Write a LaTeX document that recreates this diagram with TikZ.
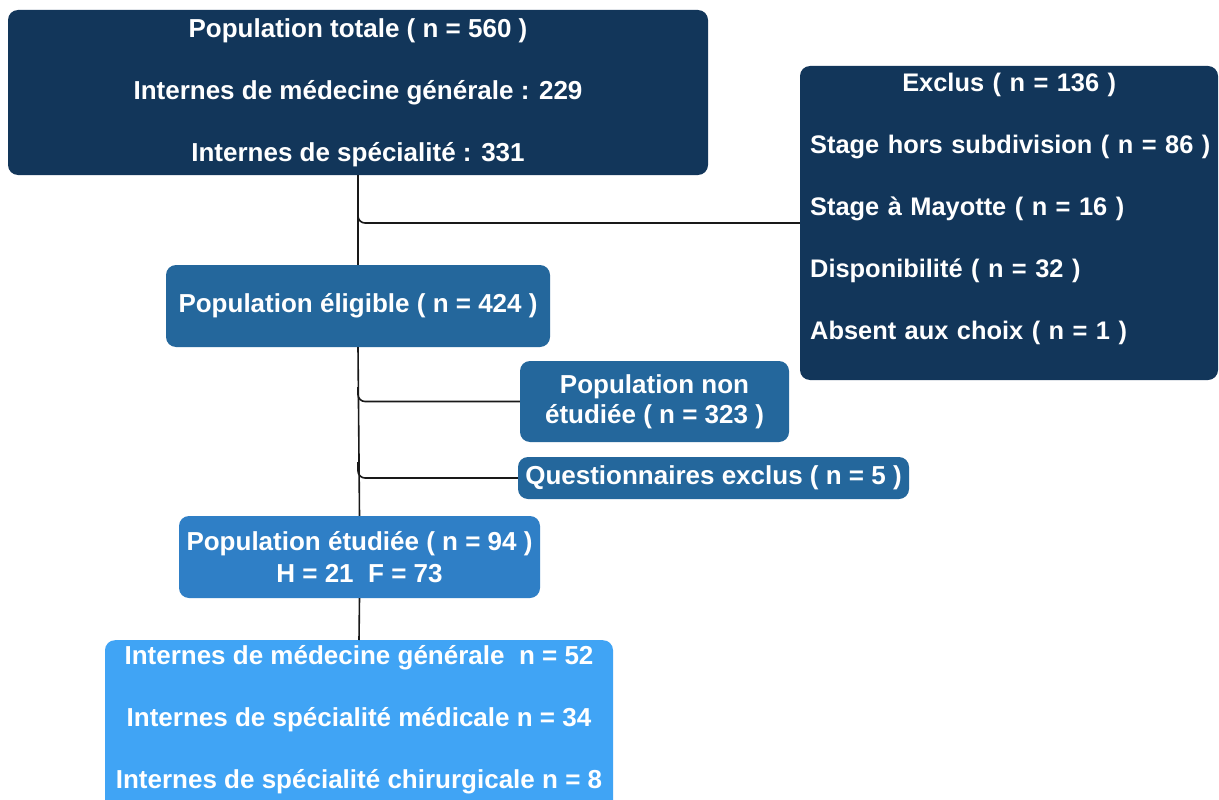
\documentclass[tikz,border=0pt]{standalone}
\usepackage{fontspec}
\setmainfont{Liberation Sans}
\usetikzlibrary{calc}
\definecolor{navy}{HTML}{12365A}
\definecolor{midblue}{HTML}{24679C}
\definecolor{studblue}{HTML}{2F7FC6}
\definecolor{lightblue}{HTML}{40A4F5}
\tikzset{
  box/.style={rounded corners=10pt, inner sep=0pt, text=white, align=center,
    font=\bfseries\fontsize{26}{62}\selectfont},
  boxtext/.style={inner sep=0pt, text=white, font=\bfseries\fontsize{26}{62}\selectfont},
  link/.style={draw=black!90, line width=1.6pt},
}
\begin{document}
\begin{tikzpicture}[x=1pt,y=-1pt]
\clip (0,0) rectangle (1219,800);
\fill[white] (0,0) rectangle (1219,800);

% boxes
\node[box, fill=navy, minimum width=700, minimum height=165] (top) at (358,92.5)
  {Population totale ( n = 560 )\\Internes de médecine générale : 229\\Internes de spécialité : 331};

\node[box, fill=navy, minimum width=418, minimum height=314] (exclus) at (1009,223) {};
\node[boxtext, align=left, text width=414, anchor=north west,
  font=\bfseries\fontsize{25.4}{62}\selectfont] (exclustext) at (810,73)
  {\makebox[398pt][c]{Exclus ( n = 136 )}\\Stage hors subdivision ( n = 86 )\\Stage à Mayotte ( n = 16 )\\Disponibilité ( n = 32 )\\Absent aux choix ( n = 1 )};

\node[box, fill=midblue, minimum width=384, minimum height=82] (elig) at (358,306)
  {Population éligible ( n = 424 )};

\node[box, fill=midblue, minimum width=269, minimum height=81,
  font=\bfseries\fontsize{26}{30}\selectfont] (nonetud) at (654.5,401.5)
  {Population non\\étudiée ( n = 323 )};

\node[box, fill=midblue, minimum width=391, minimum height=42] (quest) at (713.5,478)
  {Questionnaires exclus ( n = 5 )};

\node[box, fill=studblue, minimum width=361, minimum height=82,
  font=\bfseries\fontsize{26}{32}\selectfont] (etud) at (359.5,557)
  {Population étudiée ( n = 94 )\\H = 21\ \ F = 73};

\node[box, fill=lightblue, minimum width=508, minimum height=180, anchor=north] (bottom) at (359,640) {};
\node[boxtext, align=center] (bottomtext) at (359,720)
  {Internes de médecine générale\ \ n = 52\\Internes de spécialité médicale n = 34\\Internes de spécialité chirurgicale n = 8};

% trunk
\draw[link] (top.south) -- (elig.north);
\draw[link] (elig.south) -- (etud.north);
\draw[link] (etud.south) -- (bottom.north);

% branches
\coordinate (b1) at ($(top.south)+(0,25)$);
\coordinate (b2) at ($(elig.south)+(0,40)$);
\coordinate (b3) at ($(elig.south)+(0,115)$);
\draw[link, rounded corners=7pt] (b1) |- (exclus.west);
\draw[link, rounded corners=7pt] (b2) |- (nonetud.west);
\draw[link, rounded corners=7pt] (b3) |- (quest.west);
\end{tikzpicture}
\end{document}
